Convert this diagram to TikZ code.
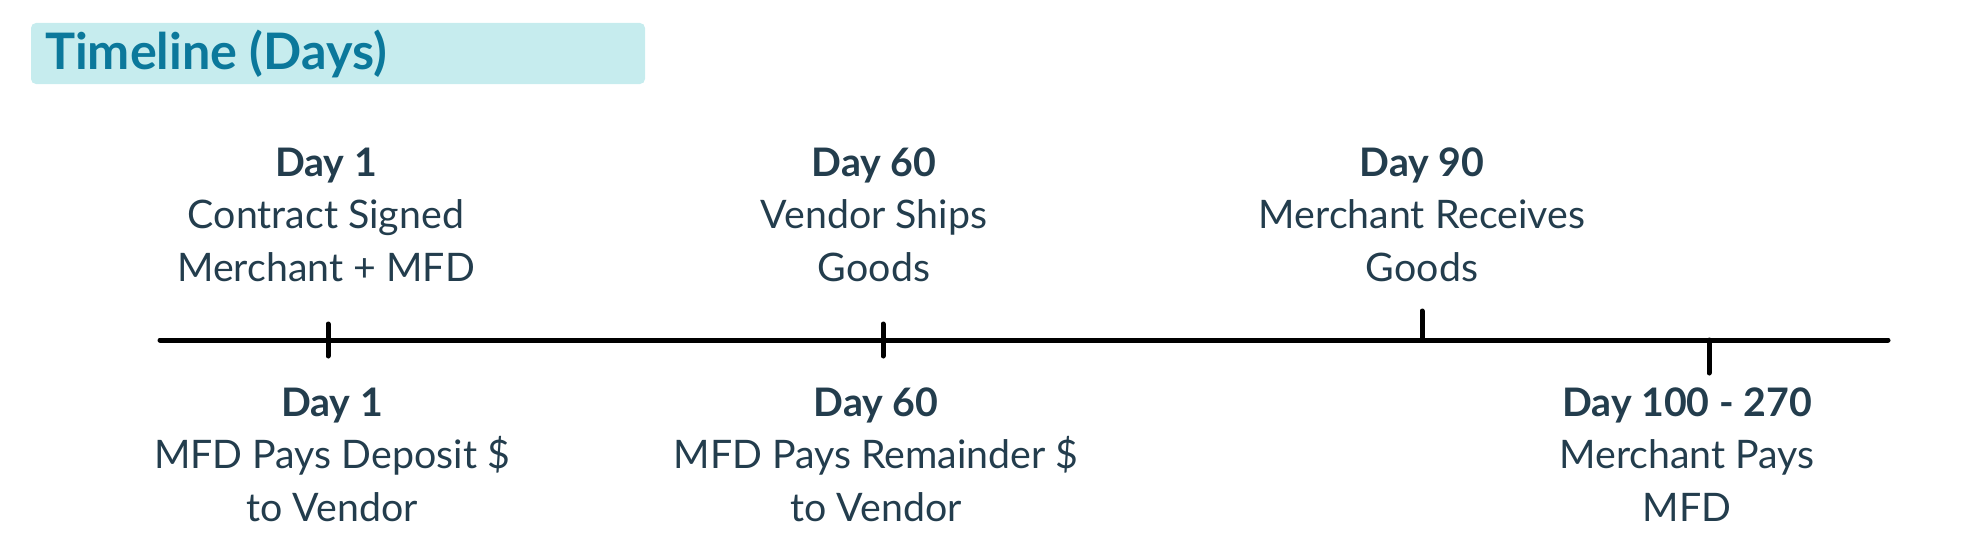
\documentclass[tikz,border=0pt]{standalone}
\usepackage{fontspec}
\setmainfont{Lato}
\usepackage{tikz}
\usetikzlibrary{calc}
\definecolor[named]{TLTeal}{HTML}{0B789B}
\definecolor[named]{TLInk}{HTML}{233D4D}
\definecolor[named]{TLCyan}{HTML}{C6ECEE}
\colorlet{titlebg}{TLCyan}
\tikzset{
  event/.style={align=center,anchor=base,text=TLInk,inner sep=0pt,
    font=\fontsize{39.3}{52.5}\selectfont},
  axis/.style={line width=5pt,line cap=round}
}
\begin{document}
\begin{tikzpicture}[x=1pt,y=-1pt]
    \useasboundingbox (0,0) rectangle (1965,551);
    % Title
    \fill[titlebg,rounded corners=5pt]
      (31,23) rectangle (645,84);
    \node[anchor=base west,inner sep=0pt,text=TLTeal,
      font=\fontsize{50.3}{60}\selectfont\bfseries] (title)
      at (45,70) {Timeline (Days)};
    % Axis
    \coordinate (start) at (160,340);
    \coordinate (stop)  at (1888,340);
    \coordinate (d1)    at (328,340);
    \coordinate (d60)   at (883,340);
    \coordinate (d90)   at (1422,340);
    \coordinate (d100)  at (1709,340);
    \draw[axis] (start) -- (stop);
    \draw[axis] ($(d1)+(0,-16)$) -- ($(d1)+(0,16)$);
    \draw[axis] ($(d60)+(0,-16)$) -- ($(d60)+(0,16)$);
    \draw[axis] ($(d90)+(0,-29)$) -- (d90);
    \draw[axis] (d100) -- ($(d100)+(0,33)$);
    % Events above (base = last line)
    \node[event] (up1)  at (326,281)
      {\textbf{Day 1}\\Contract Signed\\Merchant + MFD};
    \node[event] (up60) at (874,281)
      {\textbf{Day 60}\\Vendor Ships\\Goods};
    \node[event] (up90) at (1422,281)
      {\textbf{Day 90}\\Merchant Receives\\Goods};
    % Events below
    \node[event] (lo1)  at (332,521)
      {\textbf{Day 1}\\MFD Pays Deposit \$\\to Vendor};
    \node[event] (lo60) at (876,521)
      {\textbf{Day 60}\\MFD Pays Remainder \$\\to Vendor};
    \node[event] (lo100) at (1687,521)
      {\textbf{Day 100 - 270}\\Merchant Pays\\MFD};
  \end{tikzpicture}
\end{document}
